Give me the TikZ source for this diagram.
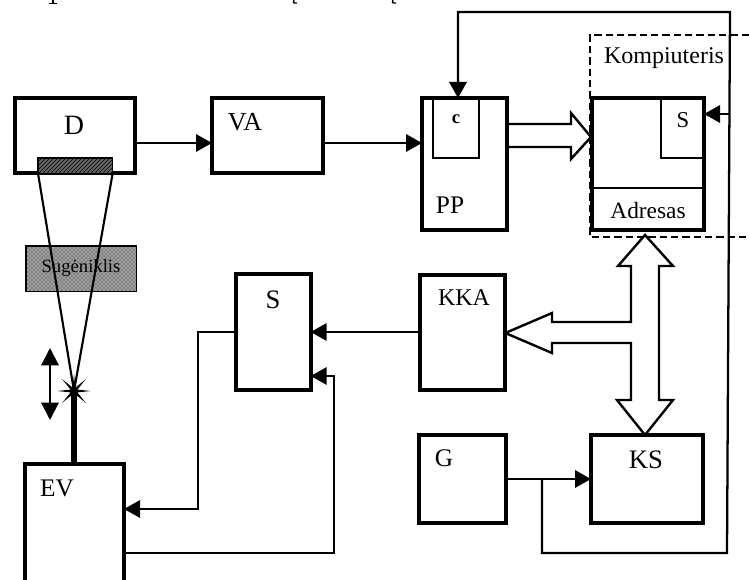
\documentclass[tikz,border=0pt]{standalone}
\usepackage{fontspec}
\setmainfont{Liberation Serif}
\usetikzlibrary{arrows.meta,patterns,shapes.geometric}
\tikzset{
  x=0.75pt,y=-0.75pt,
  blk/.style={draw=black,fill=white,line width=2.8pt,outer sep=0pt,inner sep=0pt,anchor=north west},
  conn/.style={draw=black,line width=1.7pt,line join=miter},
  tip/.style={-{Triangle[length=12pt,width=13pt]}},
  hollow/.style={draw=black,line width=1.8pt,line join=miter},
  thinbox/.style={draw=black,line width=1.4pt},
  lbl/.style={inner sep=0pt,outer sep=0pt,text=black,font=\fontsize{18}{20}\selectfont},
}
\begin{document}
\begin{tikzpicture}
\useasboundingbox (0,0) rectangle (749,580);
% boxes
\node[blk,minimum width=90pt,minimum height=56pt] (D) at (15,98) {};
\node[blk,minimum width=83pt,minimum height=56pt] (VA) at (212,98) {};
\node[blk,minimum width=64pt,minimum height=99pt] (PP) at (422,98) {};
\node[blk,minimum width=84pt,minimum height=99pt] (PC) at (592,98) {};
\node[blk,minimum width=56pt,minimum height=87pt] (S) at (236,274) {};
\node[blk,minimum width=64pt,minimum height=86pt] (KKA) at (420,275) {};
\node[blk,minimum width=65pt,minimum height=66pt] (G) at (419,435) {};
\node[blk,minimum width=84pt,minimum height=66pt] (KS) at (591,435) {};
% EV is cut by the bottom edge of the page
\draw[line width=2.8pt,fill=white] (25,585) -- (25,464) -- (124,464) -- (124,585);
\coordinate (EVe) at (124,509);
\coordinate (EVo) at (124,553);
\coordinate (EVt) at (74,464);
% inner parts
\draw[thinbox] (433,100) -- (433,158) -- (479,158) -- (479,100);
\draw[thinbox] (661,100) -- (661,158) -- (704,158);
\draw[thinbox] (593,188) -- (704,188);
% lens and detector window
\node[draw=black,line width=.8pt,outer sep=0pt,inner sep=0pt,anchor=north west,minimum width=83pt,minimum height=34pt,
      preaction={fill=black!38},pattern=crosshatch dots,pattern color=black!85] (L) at (26,246) {};
\node[draw=black,line width=.8pt,outer sep=0pt,inner sep=0pt,anchor=north west,minimum width=56pt,minimum height=11.5pt,
      preaction={fill=black!60},pattern=north east lines,pattern color=black] (W) at (38,158) {};
\node[lbl,font=\fontsize{14}{16}\selectfont] (Ltxt) at (81,268) {Sugėniklis};
% star and beam
\node[star,star points=8,star point ratio=4.5,minimum size=25pt,fill=black,inner sep=0pt,outer sep=0pt] (Star) at (74,391) {};
\draw[line width=1.6pt] (W.south west) -- (Star.center) -- (W.south east);
\draw[line width=4pt] (Star.center) -- (EVt);
\coordinate (M1) at (50,348);
\coordinate (M2) at (50,420);
\draw[line width=1.5pt,{Triangle[length=13pt,width=13pt]}-{Triangle[length=13pt,width=13pt]}] (M1) -- (M2);
% labels
\node[lbl,font=\fontsize{21}{24}\selectfont] (tD) at (74,125) {D};
\node[lbl,font=\fontsize{19.5}{22}\selectfont] (tVA) at (245,122) {VA};
\node[lbl,font=\fontsize{14}{16}\bfseries\selectfont] (tc) at (456,119) {c};
\node[lbl,font=\fontsize{19}{22}\selectfont] (tPP) at (450,205) {PP};
\node[lbl,font=\fontsize{18}{20}\selectfont] (tK) at (664,58) {Kompiuteris};
\node[lbl,font=\fontsize{17}{18}\selectfont] (tS2) at (683,120) {S};
\node[lbl,font=\fontsize{17.5}{20}\selectfont] (tA) at (648,211) {Adresas};
\node[lbl,font=\fontsize{20}{22}\selectfont] (tS) at (273,300) {S};
\node[lbl,font=\fontsize{18}{20}\selectfont] (tKKA) at (464,298) {KKA};
\node[lbl,font=\fontsize{19}{22}\selectfont] (tG) at (444,458) {G};
\node[lbl,font=\fontsize{20}{22}\selectfont] (tKS) at (646,460) {KS};
\node[lbl,font=\fontsize{19}{22}\selectfont] (tEV) at (57,488) {EV};
% dashed computer frame
\draw[black,line width=1.3pt,dash pattern=on 5.5pt off 3pt] (749,35) -- (590,35) -- (590,237) -- (749,237);
% signal connectors
\draw[conn,tip] (D.east |- 0,143) -- (VA.west |- 0,143);
\draw[conn,tip] (VA.east |- 0,143) -- (PP.west |- 0,143);
\draw[conn,tip] (KKA.west |- 0,332) -- (S.east |- 0,332);
\draw[conn,tip] (S.west |- 0,332) -- (198,332) -- (198,509) -- (EVe);
\draw[conn,tip] (EVo) -- (334,553) -- (334,376) -- (S.east |- 0,376);
\draw[conn,tip] (G.east |- 0,479) -- (KS.west |- 0,479);
\coordinate (J) at (542,479);
\coordinate (Br) at (729.4,114);
\draw[conn,tip] (J) -- (542,553) -- (727,553) -- (730,12) -- (458,12) -- (PP.north -| 458,0);
\draw[conn,tip] (Br) -- (PC.east |- 0,114);
% hollow bus arrows
\draw[hollow] (PP.east |- 0,124) -- (571,124) -- (571,113) -- (591,137) -- (571,159) -- (571,147) -- (PP.east |- 0,147);
\draw[hollow,fill=none] (631,322) -- (631,266) -- (618,266) -- (645,235) -- (673,266) -- (659,266) -- (659,400) -- (673,400) -- (KS.north -| 645,0) -- (617,400) -- (631,400) -- (631,343) -- (552,343) -- (552,353) -- (KKA.east |- 0,333) -- (552,313) -- (552,322) -- cycle;
% cut-off characters at the top edge
\draw[line width=1.3pt] (53,0) -- (53,3.5) (49,3.5) -- (57,3.5);
\draw[line width=1pt] (294,0) .. controls (293,3) .. (297,3);
\draw[line width=1pt] (393,0) .. controls (392,3) .. (396,3);
\end{tikzpicture}
\end{document}
